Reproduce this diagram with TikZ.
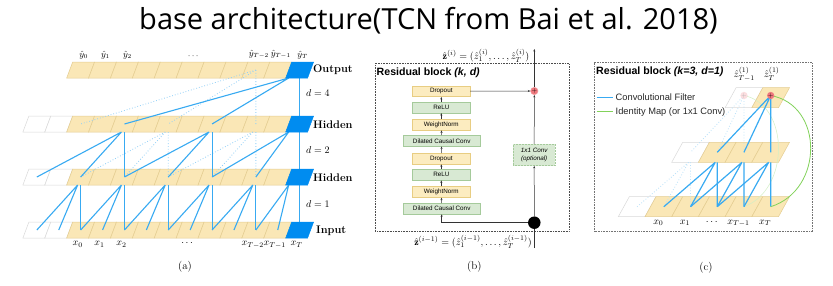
\documentclass[tikz,border=0pt]{standalone}
\usepackage{fontspec}
\newfontfamily\titlefont{Open Sans}
\newfontfamily\helv{Liberation Sans}
\usetikzlibrary{arrows.meta}
\definecolor{cellfill}{RGB}{250,231,182}
\definecolor{celledge}{RGB}{228,205,145}
\definecolor{cellblue}{RGB}{0,140,240}
\definecolor{linkblue}{RGB}{56,170,242}
\definecolor{boxorange}{RGB}{252,236,192}
\definecolor{edgeorange}{RGB}{232,205,130}
\definecolor{boxgreen}{RGB}{216,233,211}
\definecolor{edgegreen}{RGB}{165,202,155}
\definecolor{plusred}{RGB}{238,120,125}
\definecolor{idgreen}{RGB}{130,210,90}
\definecolor{legendtext}{RGB}{40,40,40}
\begin{document}
\begin{tikzpicture}[x=1pt,y=-1pt,
  ocell/.style={fill=cellfill,draw=celledge,line width=0.5pt},
  wcell/.style={fill=white,draw=black!15,line width=0.5pt},
  bcell/.style={fill=cellblue,draw=cellblue,line width=0.5pt},
  link/.style={draw=linkblue,line width=1.1pt},
  faint/.style={draw=linkblue!55,line width=0.8pt,dotted},
  rowlabel/.style={font=\bfseries\fontsize{11}{12}\selectfont,anchor=west,inner sep=0pt},
  mathlab/.style={font=\fontsize{10}{11}\selectfont,inner sep=0pt},
  panellab/.style={font=\fontsize{11}{12}\selectfont,inner sep=0pt},
  blk/.style={line width=0.5pt,minimum height=10.7pt,inner sep=0pt,font=\helv\fontsize{6.3}{7}\selectfont},
  oblk/.style={blk,fill=boxorange,draw=edgeorange,minimum width=57.3pt},
  gblk/.style={blk,fill=boxgreen,draw=edgegreen,minimum width=57.3pt},
  flow/.style={-{Stealth[length=2.5pt,width=2pt]},line width=0.5pt,draw=black!80},
  frame/.style={draw=black!70,line width=0.6pt,densely dotted},
  blocktitle/.style={font=\helv\bfseries\fontsize{10.6}{12}\selectfont,anchor=west,inner sep=0pt},
  legend/.style={font=\helv\fontsize{9.3}{11}\selectfont,text=legendtext,anchor=west,inner sep=0pt}
]
\useasboundingbox (0,0) rectangle (833,285);
\fill[white] (0,0) rectangle (833,285);

\node[font=\titlefont\fontsize{29}{34}\selectfont,anchor=base,inner sep=0pt] (title) at (428.5,29.5) {base architecture(TCN from Bai et al. 2018)};

% ---------------- (a) dilated causal convolution stack ----------------
\foreach \rw/\yt/\kmin in {out/62/2,hu/116/0,hl/169/0,in/222/0}{
  \foreach \k in {\kmin,...,11}{
    \pgfmathsetmacro\xb{22.9+\k*21.9}
    \ifnum\k<2 \def\cst{wcell}\else\def\cst{ocell}\fi
    \draw[\cst] (\xb,\yt+16) -- ++(21.9,0) -- ++(6,-16) -- ++(-21.9,0) -- cycle;
  }
  \foreach \k in {\kmin,...,12}{
    \pgfmathsetmacro\cx{22.9+\k*21.9+13.95}
    \coordinate (a\rw c\k) at (\cx,\yt+8);
    \coordinate (a\rw b\k) at (\cx-3,\yt+16);
    \coordinate (a\rw v\k) at (\cx,\yt+16);
    \coordinate (a\rw t\k) at (\cx+3,\yt);
    \coordinate (a\rw u\k) at (\cx-3,\yt+16);
  }
}
\foreach \rw/\yt in {out/62,hu/116,hl/169}{
  \coordinate (a\rw b12) at (288.7,\yt+16);
}

% receptive field of an earlier output (dotted)
\draw[faint] (aoutc10) -- (ahuc10) (aoutc10) -- (ahuc6) (aoutc10) -- (ahuc2);
\draw[faint] (ahuv10) -- (ahlc10) (ahub10) -- (ahlc8) (ahub10) -- (ahlc6);
\draw[faint] (ahuv6) -- (ahlc6) (ahub6) -- (ahlc4) (ahub6) -- (ahlc2);

% filters of the last output
\draw[link] (aoutv12) -- (ainc12);
\draw[link] (aoutb12) -- (ahuc8) (aoutb12) -- (ahuc4);
\foreach \k in {12,8,4}{
  \pgfmathtruncatemacro\ka{\k-2}\pgfmathtruncatemacro\kb{\k-4}
  \draw[link] (ahub\k) -- (ahlc\ka) (ahub\k) -- (ahlc\kb);
  \ifnum\k<12 \draw[link] (ahuv\k) -- (ahlc\k);\fi
}
\foreach \k in {12,10,8,6,4,2}{
  \pgfmathtruncatemacro\ka{\k-1}\pgfmathtruncatemacro\kb{\k-2}
  \draw[link] (ahlb\k) -- (ainc\ka) (ahlb\k) -- (ainc\kb);
  \ifnum\k<12 \draw[link] (ahlv\k) -- (ainc\k);\fi
}
\foreach \yt in {62,116,169,222}{
  \draw[bcell] (285.7,\yt+16) -- ++(21.9,0) -- ++(6,-16) -- ++(-21.9,0) -- cycle;
}

\foreach \k/\t in {2/\hat y_0,3/\hat y_1,4/\hat y_2,7/\cdots,10/\hat y_{T-2},11/\hat y_{T-1},12/\hat y_T}{
  \path (aoutt\k) node[mathlab,font=\fontsize{9}{10}\selectfont,above=3pt] (yh\k) {$\t$};
}
\foreach \k/\t in {2/x_0,3/x_1,4/x_2,7/\cdots,10/x_{T-2},11/x_{T-1},12/x_T}{
  \path (ainu\k) node[mathlab,below=3pt] (xa\k) {$\t$};
}
\node[rowlabel] (lout) at (313,70) {Output};
\node[rowlabel] (lhu) at (313,124.5) {Hidden};
\node[rowlabel] (lhl) at (313,177.5) {Hidden};
\node[rowlabel] (lin) at (316,230.5) {Input};
\node[mathlab,anchor=west] (d4) at (306,93) {$d=4$};
\node[mathlab,anchor=west] (d2) at (306,150) {$d=2$};
\node[mathlab,anchor=west] (d1) at (306,204) {$d=1$};
\node[panellab] (capa) at (185,267) {(a)};

% ---------------- (b) residual block ----------------
\draw[frame] (375,63.3) rectangle (569,231);
\node[blocktitle] (rbt) at (376.5,72.5) {Residual block \textit{(k, d)}};
\node[oblk] (dr1) at (441.3,91.3) {Dropout};
\node[gblk] (re1) at (441.3,107.5) {ReLU};
\node[oblk] (wn1) at (441.3,124.7) {WeightNorm};
\node[gblk,minimum width=76.7pt] (dc1) at (441.7,140.8) {Dilated Causal Conv};
\node[oblk] (dr2) at (441.3,158.7) {Dropout};
\node[gblk] (re2) at (441.3,174.8) {ReLU};
\node[oblk] (wn2) at (441.3,192) {WeightNorm};
\node[gblk,minimum width=76.7pt] (dc2) at (441.7,208.7) {Dilated Causal Conv};
\draw[flow] (dc2) -- (wn2);
\draw[flow] (wn2) -- (re2);
\draw[flow] (re2) -- (dr2);
\draw[flow] (dr2) -- (dc1);
\draw[flow] (dc1) -- (wn1);
\draw[flow] (wn1) -- (re1);
\draw[flow] (re1) -- (dr1);
\node[circle,fill=black,minimum size=12.5pt,inner sep=0pt] (split) at (534.3,222.7) {};
\node[circle,fill=plusred,draw=plusred!70,minimum size=7.5pt,inner sep=0pt,font=\fontsize{6}{6}\selectfont] (sum) at (534.3,91) {$+$};
\node[fill=boxgreen,draw=edgegreen,densely dotted,line width=0.5pt,minimum width=41.7pt,minimum height=21.3pt,inner sep=0pt,align=center,
      font=\helv\itshape\fontsize{6.3}{8}\selectfont] (skip) at (534.2,155) {1x1 Conv\\(optional)};
\coordinate (zin) at (534.3,248);
\coordinate (zout) at (534.3,49);
\coordinate (turn) at (441.7,222.7);
\draw[line width=0.6pt,black!80] (zin) -- (split);
\draw[flow] (split) -- (turn) -- (dc2);
\draw[flow] (split) -- (skip);
\draw[flow] (skip) -- (sum);
\draw[flow] (dr1) -- (sum);
\draw[flow] (sum) -- (zout);
\node[mathlab] (ztop) at (486,55.5) {$\hat{\mathbf z}^{(i)}=(\hat z_1^{(i)},\ldots,\hat z_T^{(i)})$};
\node[mathlab] (zbot) at (473,241.5) {$\hat{\mathbf z}^{(i-1)}=(\hat z_1^{(i-1)},\ldots,\hat z_T^{(i-1)})$};
\node[panellab] (capb) at (474.3,267) {(b)};

% ---------------- (c) example residual block ----------------
\draw[frame,draw=black!55] (594,62.7) rectangle (812.3,231.7);
\node[blocktitle] (rct) at (596,72) {Residual block \textit{(k=3, d=1)}};
\coordinate (lg1a) at (596.7,97.3);
\coordinate (lg1b) at (613.3,97.3);
\coordinate (lg2a) at (596.7,111.7);
\coordinate (lg2b) at (613.3,111.7);
\draw[draw=linkblue,line width=1.3pt] (lg1a) -- (lg1b);
\draw[draw=idgreen,line width=1.3pt] (lg2a) -- (lg2b);
\node[legend] (lgt1) at (615.5,97.3) {Convolutional Filter};
\node[legend] (lgt2) at (615.5,111.7) {Identity Map (or 1x1 Conv)};

\foreach \rw/\yt/\jmin in {cb/196.7/0,cm/142.3/2,ct/87.7/4}{
  \foreach \j in {\jmin,...,5}{
    \pgfmathsetmacro\xb{618.3+\j*26.7}
    \ifnum\j=\jmin \def\cst{wcell}\else\def\cst{ocell}\fi
    \draw[\cst] (\xb,\yt+20) -- ++(26.7,0) -- ++(11,-20) -- ++(-26.7,0) -- cycle;
    \pgfmathsetmacro\cx{\xb+13.35+5.5}
    \coordinate (\rw c\j) at (\cx,\yt+10);
    \coordinate (\rw b\j) at (\cx-2,\yt+20);
    \coordinate (\rw v\j) at (\cx,\yt+20);
    \coordinate (\rw u\j) at (\cx-5.5,\yt+20);
  }
}
\coordinate (pT) at (770.7,95.5);
\coordinate (pTm) at (744,95.5);

% faint: filters of the previous output
\draw[faint,draw=linkblue!35] (pTm) -- (cmc2) (pTm) -- (cmc3) (pTm) -- (cmc4);
\draw[faint,draw=linkblue!35] (cmb2) -- (cbc0) (cmb2) -- (cbc1) (cmv2) -- (cbc2);
\draw[idgreen!35,line width=0.5pt] (cbc4) .. controls (790,190) and (790,105) .. (pTm);

\draw[link,line width=1.2pt] (pT) -- (cmc3) (pT) -- (cmc4) (pT) -- (cmc5);
\foreach \j in {3,4,5}{
  \pgfmathtruncatemacro\ja{\j-1}\pgfmathtruncatemacro\jb{\j-2}
  \draw[link,line width=1.2pt] (cmb\j) -- (cbc\ja) (cmb\j) -- (cbc\jb) (cmv\j) -- (cbc\j);
}
\draw[idgreen,line width=0.8pt] (cbc5) .. controls (824,190) and (824,105) .. (pT);
\node[circle,fill=plusred,minimum size=7pt,inner sep=0pt,font=\fontsize{6}{6}\selectfont] (sumT) at (pT) {$+$};
\node[circle,fill=plusred!25,minimum size=7pt,inner sep=0pt,text=black!30,font=\fontsize{6}{6}\selectfont] (sumTm) at (pTm) {$+$};
\node[mathlab] (zl1) at (744.3,74) {$\hat z_{T-1}^{(1)}$};
\node[mathlab] (zl2) at (771.7,74) {$\hat z_{T}^{(1)}$};
\foreach \j/\t in {1/x_0,2/x_1,3/\cdots,4/x_{T-1},5/x_T}{
  \path (cbu\j) node[mathlab,below=3pt] (xc\j) {$\t$};
}
\node[panellab] (capc) at (706,267.7) {(c)};
\end{tikzpicture}
\end{document}
